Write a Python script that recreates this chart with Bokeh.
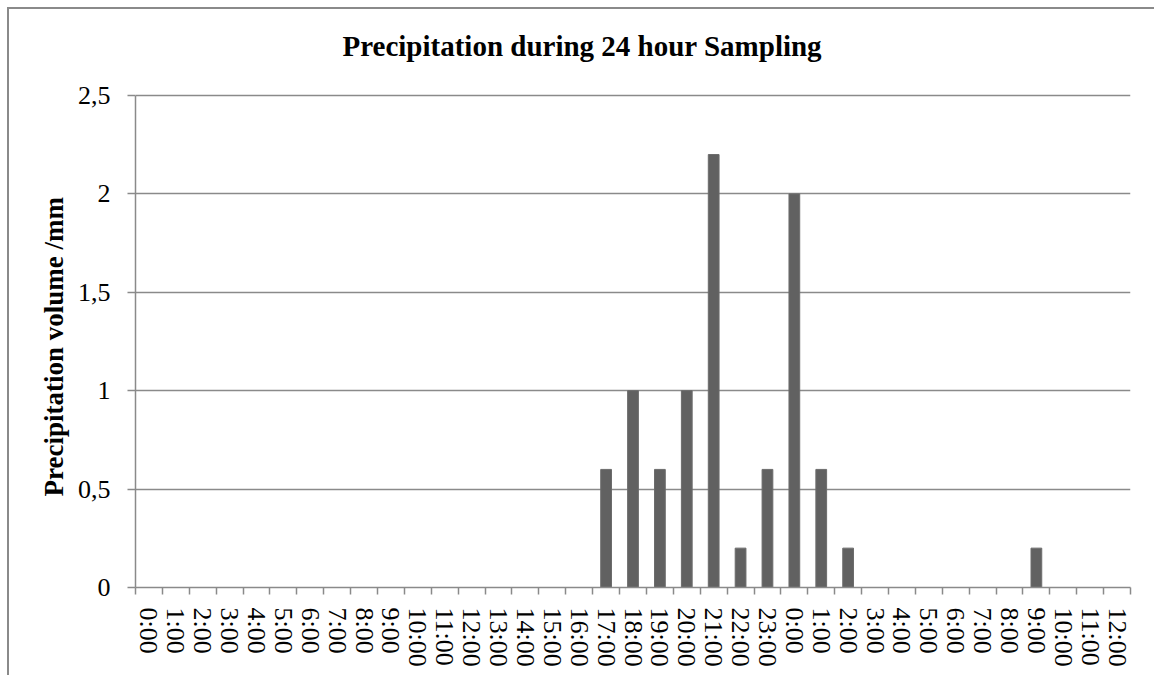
from bokeh.plotting import figure
from bokeh.models import Range1d, FixedTicker, Title
from bokeh.embed import file_html
from bokeh.resources import INLINE

# ---- data ----
times = ["0:00", "1:00", "2:00", "3:00", "4:00", "5:00", "6:00", "7:00", "8:00",
         "9:00", "10:00", "11:00", "12:00", "13:00", "14:00", "15:00", "16:00",
         "17:00", "18:00", "19:00", "20:00", "21:00", "22:00", "23:00",
         "0:00", "1:00", "2:00", "3:00", "4:00", "5:00", "6:00", "7:00", "8:00",
         "9:00", "10:00", "11:00", "12:00"]
precip = [0, 0, 0, 0, 0, 0, 0, 0, 0, 0, 0, 0, 0, 0, 0, 0, 0,
          0.6, 1, 0.6, 1, 2.2, 0.2, 0.6,
          2, 0.6, 0.2, 0, 0, 0, 0, 0, 0, 0.2, 0, 0, 0]
y_ticks = [0, 0.5, 1, 1.5, 2, 2.5]
y_tick_labels = ["0", "0,5", "1", "1,5", "2", "2,5"]
title_text = "Precipitation during 24 hour Sampling"
y_title = "Precipitation volume /mm"

FONT = "Liberation Serif"
GRAY = "#8a8a8a"

idx = list(range(len(times)))

p = figure(width=1147, height=668, output_backend="svg", toolbar_location=None,
           x_range=Range1d(-0.5, len(times) - 0.5), y_range=Range1d(0, 2.6016),
           min_border_left=126, min_border_right=26, min_border_top=66,
           min_border_bottom=90)
p.styles = {"margin-left": "7px", "margin-top": "7px",
            "border-left": "2px solid #8a8a8a", "border-top": "2px solid #8a8a8a"}
p.outline_line_color = None
p.background_fill_color = "white"
p.border_fill_color = "white"

p.title.text = title_text
p.title.align = "left"
p.title.offset = 207
p.title.standoff = 27
p.title.text_font = FONT
p.title.text_font_size = "29px"
p.title.text_font_style = "bold"
p.title.text_color = "black"

p.vbar(x=idx, top=precip, width=0.4, bottom=0, fill_color="#616161",
       line_color="#6c6c6c", line_width=1)

# x axis
xa = p.xaxis[0]
xa.ticker = FixedTicker(ticks=idx, minor_ticks=[i - 0.5 for i in range(len(times) + 1)])
xa.major_label_overrides = {i: t for i, t in zip(idx, times)}
xa.major_label_orientation = "vertical"
xa.major_label_text_font = FONT
xa.major_label_text_font_size = "26px"
xa.major_label_text_color = "black"
xa.major_label_standoff = 13
xa.major_tick_line_color = None
xa.minor_tick_out = 7
xa.minor_tick_in = 0
xa.minor_tick_line_color = GRAY
xa.minor_tick_line_width = 1.5
xa.axis_line_color = GRAY
xa.axis_line_width = 1.5

# y axis
ya = p.yaxis[0]
ya.bounds = (y_ticks[0], y_ticks[-1])
ya.ticker = FixedTicker(ticks=y_ticks)
ya.major_label_overrides = {t: l for t, l in zip(y_ticks, y_tick_labels)}
ya.major_label_text_font = FONT
ya.major_label_text_font_size = "26px"
ya.major_label_text_color = "black"
ya.major_label_standoff = 17
ya.major_tick_out = 8
ya.major_tick_in = 0
ya.major_tick_line_color = GRAY
ya.major_tick_line_width = 1.5
ya.minor_tick_line_color = None
ya.axis_line_color = GRAY
ya.axis_line_width = 1.5

# y axis title, positioned along the value axis
p.add_layout(Title(text=y_title, align="left", offset=91, standoff=12,
                   text_font=FONT, text_font_size="27px", text_font_style="bold",
                   text_color="black"), "left")

p.xgrid.visible = False
p.ygrid.ticker = FixedTicker(ticks=y_ticks)
p.ygrid.grid_line_color = GRAY
p.ygrid.grid_line_width = 1.5

open("out.html", "w").write(file_html(p, INLINE))
